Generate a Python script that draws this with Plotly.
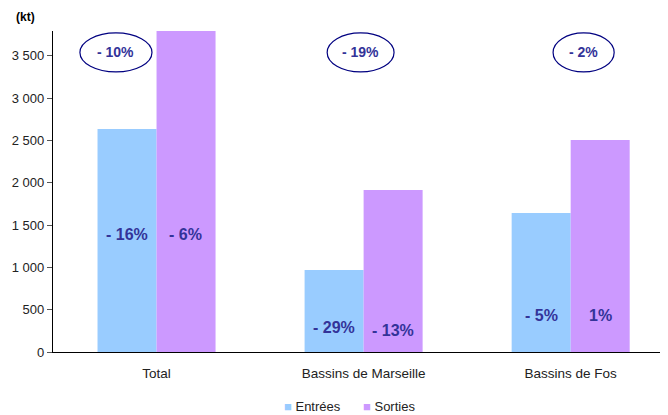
import plotly.graph_objects as go

categories = ["Total", "Bassins de Marseille", "Bassins de Fos"]
entrees = [2636, 969, 1643]
sorties = [3810, 1915, 2506]
entrees_pct = ["- 16%", "- 29%", "- 5%"]
sorties_pct = ["- 6%", "- 13%", "1%"]
total_pct = ["- 10%", "- 19%", "- 2%"]
y_ticks = [0, 500, 1000, 1500, 2000, 2500, 3000, 3500]
series_names = ["Entrées", "Sorties"]
series_colors = ["#99CCFF", "#CC99FF"]

# label layout (style)
entrees_label_y = [1383, 284, 437]
sorties_label_y = [1383, 260, 437]
ellipse_x = [(-0.370, -0.022), (0.824, 1.147), (1.915, 2.210)]
ellipse_y = (3310, 3771)

LABEL_COLOR = "#333399"
FONT = "Liberation Sans"

xs = list(range(len(categories)))

fig = go.Figure()
fig.add_trace(go.Bar(name=series_names[0], x=xs, y=entrees, marker_color=series_colors[0],
                     marker_line_width=0))
fig.add_trace(go.Bar(name=series_names[1], x=xs, y=sorties, marker_color=series_colors[1],
                     marker_line_width=0))

annotations = []
for i in xs:
    annotations.append(dict(x=i - 0.142, y=entrees_label_y[i], text=f"<b>{entrees_pct[i]}</b>",
                            showarrow=False, font=dict(family=FONT, size=16, color=LABEL_COLOR),
                            xref="x", yref="y"))
    annotations.append(dict(x=i + 0.142, y=sorties_label_y[i], text=f"<b>{sorties_pct[i]}</b>",
                            showarrow=False, font=dict(family=FONT, size=16, color=LABEL_COLOR),
                            xref="x", yref="y"))
    x0, x1 = ellipse_x[i]
    annotations.append(dict(x=(x0 + x1) / 2, y=sum(ellipse_y) / 2, text=f"<b>{total_pct[i]}</b>",
                            showarrow=False,
                            font=dict(family=FONT, size=14, color=LABEL_COLOR, weight="bold"),
                            xref="x", yref="y"))

annotations.append(dict(xref="paper", yref="paper", x=-0.045, y=1.045,
                        xanchor="center", yanchor="middle", text="<b>(kt)</b>",
                        showarrow=False, font=dict(family=FONT, size=12, color="#000000")))

# custom legend
legend_x = [0.372, 0.500]
for name, color, lx in zip(series_names, series_colors, legend_x):
    annotations.append(dict(xref="paper", yref="paper", x=lx, y=-0.171,
                            xanchor="left", yanchor="middle",
                            text=f"<span style='color:{color}'>■</span> {name}",
                            showarrow=False, font=dict(family=FONT, size=13, color="#222222")))

shapes = []
for (x0, x1) in ellipse_x:
    shapes.append(dict(type="circle", xref="x", yref="y", x0=x0, x1=x1,
                       y0=ellipse_y[0], y1=ellipse_y[1],
                       line=dict(color="#000080", width=1.2), fillcolor="rgba(0,0,0,0)"))

# page body has an 8px default margin, so the figure is sized to fit the window
fig.update_layout(
    width=660, height=407,
    margin=dict(l=45, r=0, t=23, b=63, autoexpand=False),
    paper_bgcolor="white", plot_bgcolor="white",
    barmode="group", bargap=0.43, bargroupgap=0,
    separators=", ",
    font=dict(family=FONT, size=13, color="#222222"),
    showlegend=False,
    annotations=annotations,
    shapes=shapes,
)
fig.update_xaxes(range=[-0.5, 2.47], tickvals=xs, ticktext=categories,
                 showline=True, linecolor="#000000", linewidth=1.3,
                 ticks="", showgrid=False, zeroline=False, ticklabelstandoff=9,
                 tickfont=dict(family=FONT, size=13.5, color="#222222"))
fig.update_yaxes(range=[0, 3794], tickvals=y_ticks, tickformat=",d",
                 showline=True, linecolor="#000000", linewidth=1.3,
                 ticks="outside", ticklen=5, tickcolor="#555555",
                 showgrid=False, zeroline=False,
                 tickfont=dict(family=FONT, size=13, color="#222222"))

fig.write_html("out.html")
